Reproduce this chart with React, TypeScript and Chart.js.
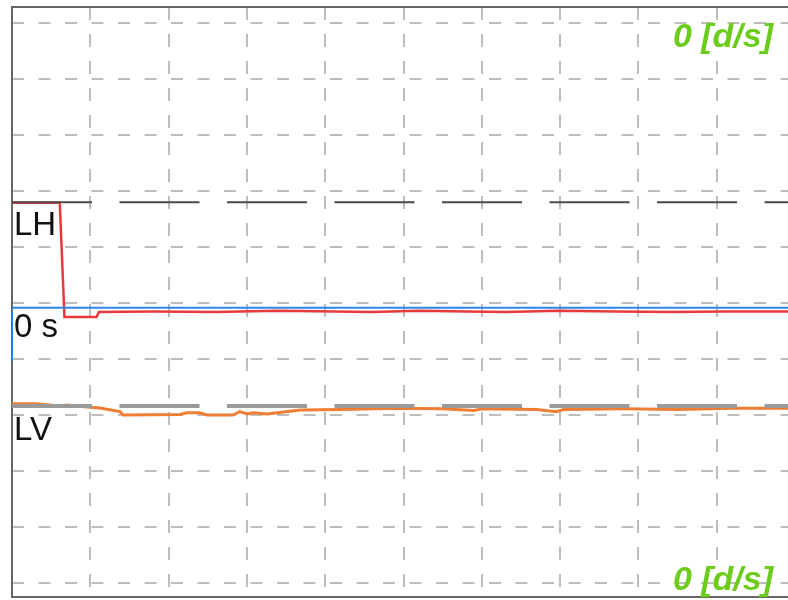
import React, { useEffect, useRef } from "react";
import { Chart, registerables } from "chart.js";

Chart.register(...registerables);

// Scope divisions (x: time divisions, y: vertical divisions above the bottom grid line)
const xTicks = [0, 1, 2, 3, 4, 5, 6, 7, 8, 9, 10];
const yTicks = [0, 1, 2, 3, 4, 5, 6, 7, 8, 9, 10];

// Red trace (LH -> 0 s)
const redT = [0, 0.61, 0.67, 1.08, 1.11, 1.8, 2.6, 3.4, 4.1, 4.6, 5.2, 5.8, 6.3, 7.0, 7.7, 8.4, 9.1, 10];
const redV = [6.79, 6.79, 4.75, 4.75, 4.84, 4.85, 4.84, 4.86, 4.85, 4.84, 4.86, 4.85, 4.84, 4.86, 4.85, 4.84, 4.85, 4.85];

// Blue trace (0 s marker)
const blueT = [0, 0, 10];
const blueV = [3.95, 4.915, 4.915];

// Orange trace (LV)
const orangeT = [0, 0.3, 0.61, 0.7, 1.0, 1.12, 1.38, 1.42, 2.15, 2.23, 2.4, 2.49, 2.82, 2.91, 3.0, 3.08, 3.26, 3.68, 4.2, 4.9, 5.5, 5.9, 6.0, 6.7, 6.95, 7.05, 7.8, 8.5, 9.2, 10];
const orangeV = [3.2, 3.2, 3.16, 3.18, 3.14, 3.125, 3.06, 3.0, 3.01, 3.04, 3.04, 3.0, 3.0, 3.06, 3.02, 3.04, 3.02, 3.09, 3.1, 3.12, 3.11, 3.08, 3.11, 3.1, 3.06, 3.1, 3.11, 3.1, 3.12, 3.12];

// Reference levels
const lhLevel = 6.8;
const lvLevel = 3.16;
const refT = [0, 10];

const levelLabels = ["LH", "0 s", "LV"];
const rateLabel = "0 [d/s]";

const pts = (t: number[], v: number[]) => t.map((x, i) => ({ x, y: v[i] }));

export default function App() {
  const ref = useRef<HTMLCanvasElement | null>(null);

  useEffect(() => {
    if (!ref.current) return;
    const framePlugin = {
      id: "frame",
      beforeDatasetsDraw(chart: any) {
        const { ctx, chartArea: a } = chart;
        ctx.save();
        ctx.setLineDash([]);
        ctx.strokeStyle = "#666666";
        ctx.lineWidth = 2;
        ctx.strokeRect(a.left, a.top, a.right - a.left, a.bottom - a.top);
        ctx.restore();
      },
      afterDatasetsDraw(chart: any) {
        const { ctx, chartArea: a, scales } = chart;
        const y = scales.y;
        ctx.save();
        ctx.fillStyle = "#111";
        ctx.font = "33px 'Liberation Sans', Arial, sans-serif";
        ctx.textAlign = "left";
        ctx.textBaseline = "alphabetic";
        ctx.fillText(levelLabels[0], a.left + 2, y.getPixelForValue(lhLevel) + 33);
        ctx.fillText(levelLabels[1], a.left + 2, y.getPixelForValue(blueV[1]) + 29);
        ctx.fillText(levelLabels[2], a.left + 2, y.getPixelForValue(lvLevel) + 34);
        ctx.fillStyle = "#6ccc1c";
        ctx.font = "italic bold 34px 'Liberation Sans', Arial, sans-serif";
        ctx.textAlign = "right";
        ctx.fillText(rateLabel, a.left + 761, a.top + 40);
        ctx.fillText(rateLabel, a.left + 761, a.bottom - 7);
        ctx.restore();
      },
    };

    const chart = new Chart(ref.current, {
      type: "line",
      data: {
        datasets: [
          {
            data: pts(refT, [lhLevel, lhLevel]),
            borderColor: "#4a4a4a",
            borderWidth: 2,
            borderDash: [80, 27.5],
            pointRadius: 0,
          },
          {
            data: pts(refT, [lvLevel, lvLevel]),
            borderColor: "#9a9a9a",
            borderWidth: 4,
            borderDash: [80, 27.5],
            pointRadius: 0,
          },
          {
            data: pts(blueT, blueV),
            borderColor: "#2f86e8",
            borderWidth: 2,
            pointRadius: 0,
          },
          {
            data: pts(redT, redV),
            borderColor: "#e83a3e",
            borderWidth: 2.5,
            pointRadius: 0,
          },
          {
            data: pts(orangeT, orangeV),
            borderColor: "#ef7d33",
            borderWidth: 3,
            pointRadius: 0,
          },
        ],
      },
      options: {
        animation: false,
        responsive: false,
        events: [],
        layout: { padding: { left: 12, top: 7, right: 5, bottom: 3 } },
        plugins: { legend: { display: false }, title: { display: false }, tooltip: { enabled: false } },
        elements: { line: { tension: 0 } },
        scales: {
          x: {
            type: "linear",
            min: 0,
            max: 10,
            afterBuildTicks: (s: any) => {
              s.ticks = xTicks.map((v) => ({ value: v }));
            },
            afterFit: (s: any) => {
              s.height = 0;
            },
            ticks: { display: false },
            grid: { color: "#bdbdbd", lineWidth: 2, drawTicks: false },
            border: { display: false, dash: [13, 14] },
          },
          y: {
            type: "linear",
            min: -0.25,
            max: 10.2857,
            afterBuildTicks: (s: any) => {
              s.ticks = yTicks.map((v) => ({ value: v }));
            },
            afterFit: (s: any) => {
              s.width = 0;
            },
            ticks: { display: false },
            grid: { color: "#bdbdbd", lineWidth: 2, drawTicks: false },
            border: { display: false, dash: [12, 14.5] },
          },
        },
      },
      plugins: [framePlugin],
    } as any);
    return () => chart.destroy();
  }, []);

  return (
    <div style={{ position: "fixed", left: 0, top: 0, width: 788, height: 600, overflow: "hidden", background: "#fff" }}>
      <canvas ref={ref} width={800} height={600} style={{ display: "block", width: 800, height: 600 }} />
    </div>
  );
}
